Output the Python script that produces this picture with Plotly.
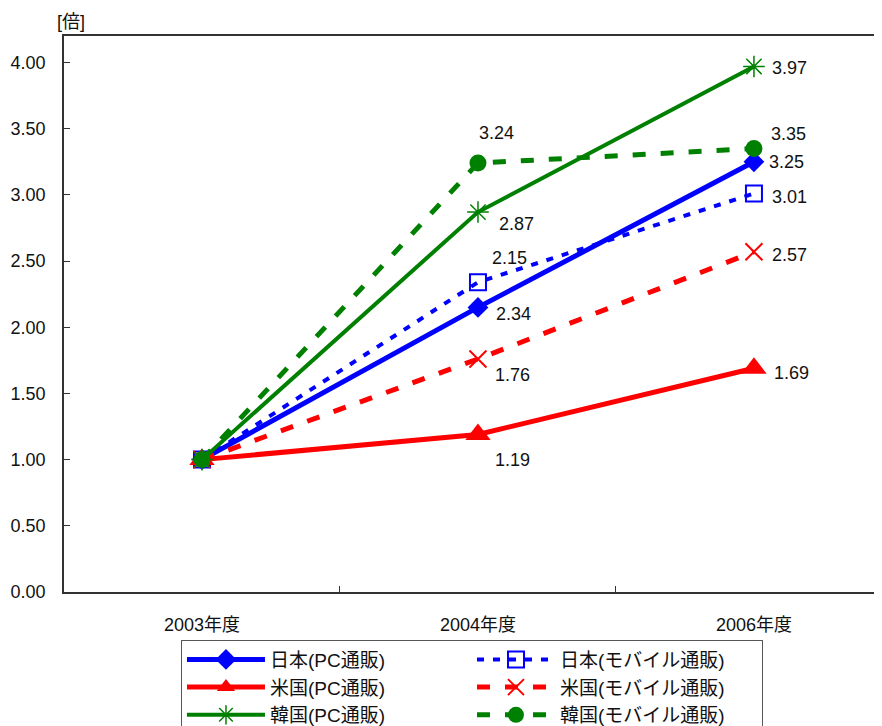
import plotly.graph_objects as go

years = ["2003年度", "2004年度", "2006年度"]

jp_pc = [1.00, 2.15, 3.25]
jp_mob = [1.00, 2.34, 3.01]
us_pc = [1.00, 1.19, 1.69]
us_mob = [1.00, 1.76, 2.57]
kr_pc = [1.00, 2.87, 3.97]
kr_mob = [1.00, 3.24, 3.35]

# data labels as printed in the chart
jp_pc_lbl = ["", "2.34", "3.25"]
jp_mob_lbl = ["", "2.15", "3.01"]
us_pc_lbl = ["", "1.19", "1.69"]
us_mob_lbl = ["", "1.76", "2.57"]
kr_pc_lbl = ["", "2.87", "3.97"]
kr_mob_lbl = ["", "3.24", "3.35"]

y_ticks = [0, 0.5, 1.0, 1.5, 2.0, 2.5, 3.0, 3.5, 4.0]

BLUE = "#0000FF"
RED = "#FF0000"
GREEN = "#008000"
FONT = "Liberation Sans, Arial, Noto Sans CJK JP, sans-serif"
DASH = "13px,15px"
DOT = "7px,9px"

fig = go.Figure()

def add(name, y, color, dash, lw, symbol, msize, mline=0):
    fig.add_trace(go.Scatter(
        x=years, y=y, name=name, mode="lines+markers",
        line=dict(color=color, width=lw, dash=dash),
        marker=dict(symbol=symbol, size=msize, color=color,
                    line=dict(color=color, width=mline)),
    ))

add("日本(PC通販)", jp_pc, BLUE, "solid", 5, "diamond", 16)
add("日本(モバイル通販)", jp_mob, BLUE, DOT, 4, "square-open", 16, 2)
add("米国(PC通販)", us_pc, RED, "solid", 5, "triangle-up", 22)
add("米国(モバイル通販)", us_mob, RED, DASH, 5, "x-thin-open", 17, 2)
add("韓国(PC通販)", kr_pc, GREEN, "solid", 4, "asterisk-open", 18, 1.5)
add("韓国(モバイル通販)", kr_mob, GREEN, DASH, 5, "circle", 17)

# label offsets (pixels) per series per point
label_sets = [
    (jp_pc, jp_pc_lbl, [(0, 0), (36, -7), (33, 0)]),
    (jp_mob, jp_mob_lbl, [(0, 0), (32, 24), (36, -3)]),
    (us_pc, us_pc_lbl, [(0, 0), (35, -26), (38, -5)]),
    (us_mob, us_mob_lbl, [(0, 0), (35, -16), (36, -3)]),
    (kr_pc, kr_pc_lbl, [(0, 0), (39, -12), (36, -2)]),
    (kr_mob, kr_mob_lbl, [(0, 0), (19, 30), (35, 15)]),
]
for vals, lbls, offs in label_sets:
    for i, (v, t) in enumerate(zip(vals, lbls)):
        if not t:
            continue
        fig.add_annotation(x=years[i], y=v, text=t, showarrow=False,
                           xshift=offs[i][0], yshift=offs[i][1],
                           font=dict(size=18, color="#111111", family=FONT))

fig.add_annotation(xref="paper", yref="paper", x=0.008, y=1.0, yshift=2,
                   text="[倍]", showarrow=False, xanchor="center", yanchor="bottom",
                   font=dict(size=18, color="#111111", family=FONT))

fig.update_layout(
    width=874, height=718,
    margin=dict(l=56, r=0, t=28, b=134, autoexpand=False),
    paper_bgcolor="white", plot_bgcolor="white",
    font=dict(family=FONT, size=18, color="#111111"),
    showlegend=True,
    legend=dict(orientation="h", x=0.143, y=-0.0855, xanchor="left", yanchor="top",
                entrywidth=197, entrywidthmode="pixels", itemwidth=78,
                bordercolor="#555555", borderwidth=1, bgcolor="white",
                font=dict(size=19, family=FONT, color="#111111"),
                tracegroupgap=0),
    xaxis=dict(type="category", range=[-0.5, 2.464], tickson="boundaries",
               ticks="inside", ticklen=6, tickcolor="#333333",
               showline=True, linecolor="#333333", linewidth=1.5, mirror=True,
               showgrid=False, tickfont=dict(size=18), ticklabelstandoff=16,
               automargin=False),
    yaxis=dict(range=[0, 4.2], tickvals=y_ticks, tickformat=".2f",
               ticks="inside", ticklen=6, tickcolor="#333333",
               showline=True, linecolor="#333333", linewidth=1.5,
               showgrid=False, zeroline=False, tickfont=dict(size=18),
               ticklabelstandoff=13, automargin=False),
)

fig.write_html("out.html")
